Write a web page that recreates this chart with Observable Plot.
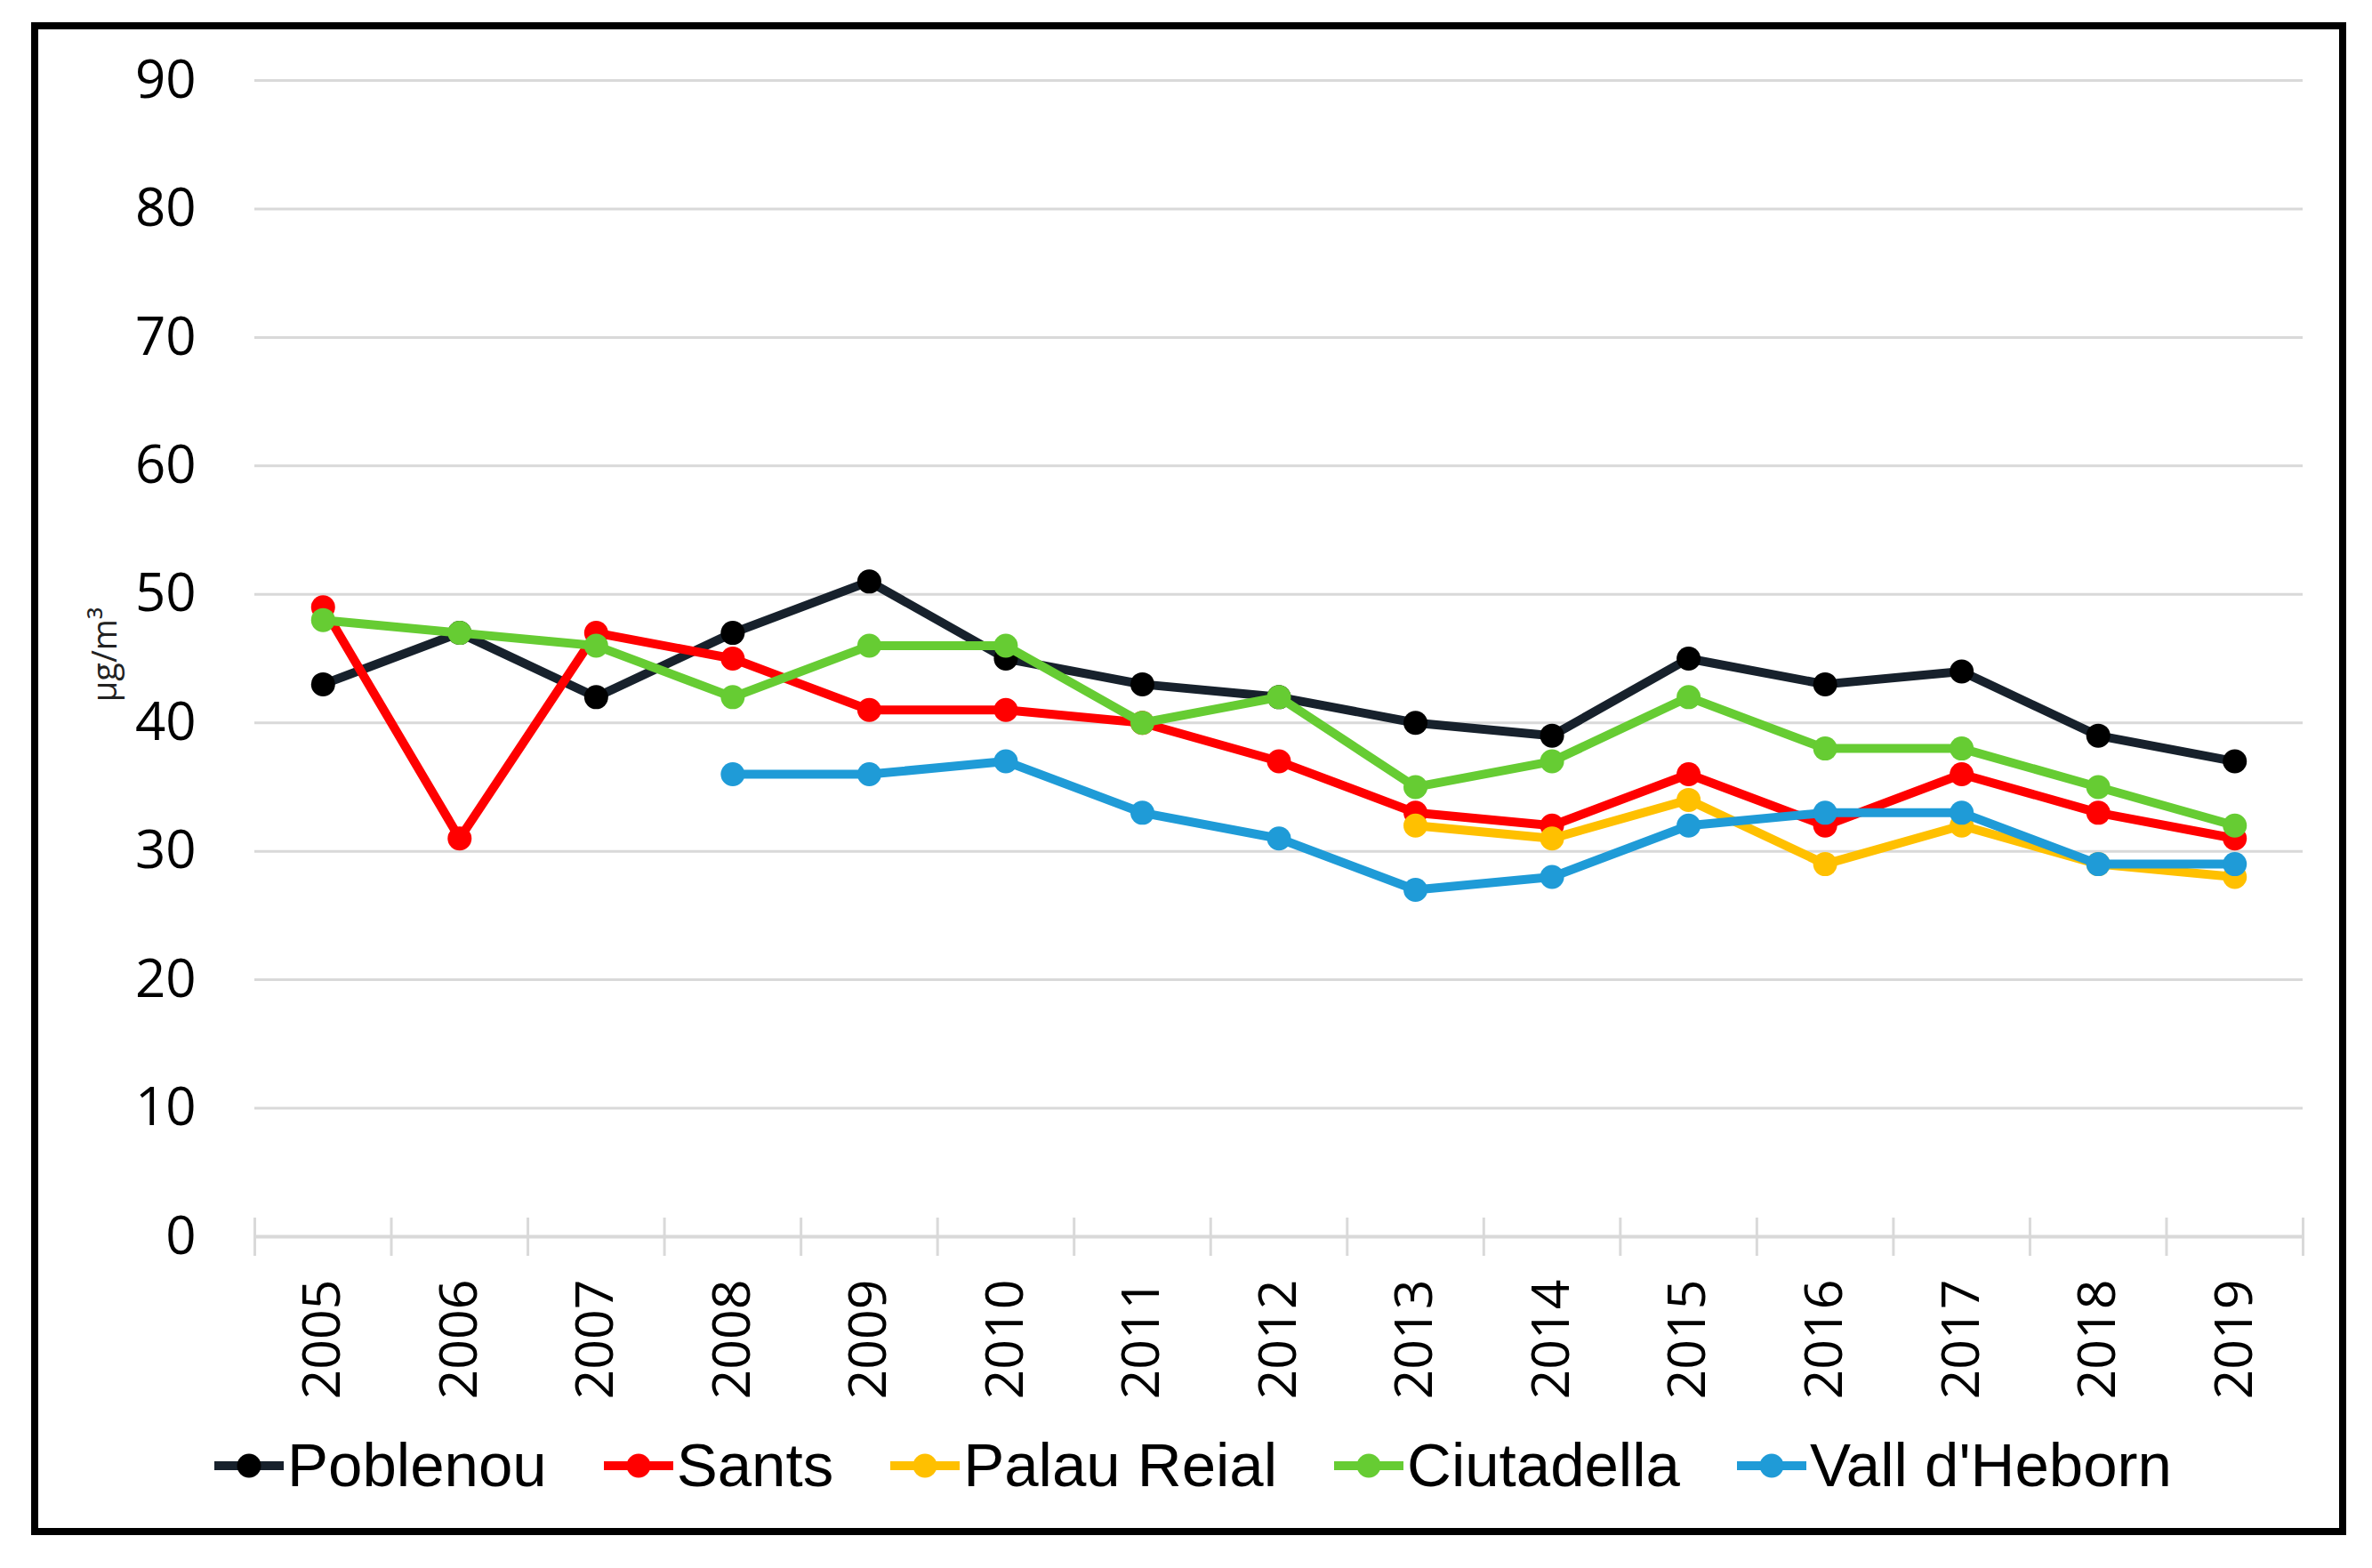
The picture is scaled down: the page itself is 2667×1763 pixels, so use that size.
<!DOCTYPE html>
<html>
<head>
<meta charset="utf-8">
<script src="https://cdn.jsdelivr.net/npm/d3@7"></script>
<script src="https://cdn.jsdelivr.net/npm/@observablehq/plot@0.6"></script>
<style>
  html, body { margin: 0; padding: 0; background: #fff; }
  #page { position: relative; width: 2667px; height: 1763px; overflow: hidden; background: #fff; }
  #frame { position: absolute; left: 35px; top: 25px; width: 2603px; height: 1701px; border: 8px solid #000; box-sizing: border-box; pointer-events: none; }
  #chart { position: absolute; left: 0; top: 0; }
  #ytitle { position: absolute; left: 116px; top: 736px; transform: translate(-50%, -50%) rotate(-90deg); font-family: "Open Sans", sans-serif; font-size: 38px; color: #222; white-space: nowrap; }
  #legend { position: absolute; left: 0; top: 1608px; width: 2683px; display: flex; justify-content: center; align-items: center; font-family: "Liberation Sans", Arial, sans-serif; font-size: 69px; color: #000; }
  .item { display: flex; align-items: center; margin: 0 32px; }
  .item svg { display: block; margin-right: 4px; }
</style>
</head>
<body>
<div id="page">
  <div id="chart"></div>
  <div id="ytitle">µg/m³</div>
  <div id="legend"></div>
  <div id="frame"></div>
</div>
<script>
const years = [2005, 2006, 2007, 2008, 2009, 2010, 2011, 2012, 2013, 2014, 2015, 2016, 2017, 2018, 2019];
const stations = ["Poblenou", "Sants", "Palau Reial", "Ciutadella", "Vall d'Heborn"];
const poblenou   = [43, 47, 42, 47, 51, 45, 43, 42, 40, 39, 45, 43, 44, 39, 37];
const sants      = [49, 31, 47, 45, 41, 41, 40, 37, 33, 32, 36, 32, 36, 33, 31];
const palauReial = [null, null, null, null, null, null, null, null, 32, 31, 34, 29, 32, 29, 28];
const ciutadella = [48, 47, 46, 42, 46, 46, 40, 42, 35, 37, 42, 38, 38, 35, 32];
const vallHebron = [null, null, null, 36, 36, 37, 33, 31, 27, 28, 32, 33, 33, 29, 29];
const yTicks = [0, 10, 20, 30, 40, 50, 60, 70, 80, 90];

const seriesValues = [poblenou, sants, palauReial, ciutadella, vallHebron];
const lineColors = ["#17212c", "#ff0000", "#ffc000", "#66cc33", "#1f9bd7"];
const dotColors  = ["#000000", "#ff0000", "#ffc000", "#66cc33", "#1f9bd7"];

const boundaries = years.map(y => y - 0.5).concat([years[years.length - 1] + 0.5]);

const marks = [
  Plot.gridY(yTicks.filter(t => t > 0), { stroke: "#d9d9d9", strokeWidth: 3, strokeOpacity: 1 }),
  Plot.ruleY([0], { stroke: "#d9d9d9", strokeWidth: 4 }),
  Plot.ruleX(boundaries, { x: d => d, y1: 0, y2: 0, insetTop: -21, insetBottom: -22, stroke: "#d9d9d9", strokeWidth: 3 }),
  Plot.axisY({ ticks: yTicks, tickSize: 0, tickPadding: 66, fontSize: 60, fill: "#000", label: null }),
  Plot.axisX({ ticks: years, tickSize: 0, tickPadding: 48, tickRotate: -90, tickFormat: d => String(d), fontSize: 59, fill: "#000", label: null })
];

stations.forEach((name, i) => {
  const rows = years.map((year, j) => ({ year, value: seriesValues[i][j], station: name }))
                    .filter(d => d.value != null);
  marks.push(Plot.line(rows, { x: "year", y: "value", stroke: lineColors[i], strokeWidth: 10, strokeLinejoin: "round", strokeLinecap: "round" }));
  marks.push(Plot.dot(rows, { x: "year", y: "value", r: 13.5, fill: dotColors[i], stroke: "none" }));
});

const chart = Plot.plot({
  width: 2667,
  height: 1600,
  marginLeft: 286,
  marginRight: 78,
  marginTop: 90,
  marginBottom: 210,
  style: { fontFamily: "'Open Sans', sans-serif", background: "transparent", color: "#000", overflow: "visible" },
  x: { type: "linear", domain: [2004.5, 2019.5], axis: null },
  y: { type: "linear", domain: [0, 90], axis: null },
  marks
});
document.getElementById("chart").appendChild(chart);

const legend = document.getElementById("legend");
stations.forEach((name, i) => {
  const item = document.createElement("div");
  item.className = "item";
  item.innerHTML =
    `<svg width="78" height="30" viewBox="0 0 78 30">` +
    `<line x1="1" y1="15" x2="77" y2="15" stroke="${lineColors[i]}" stroke-width="10" stroke-linecap="round"/>` +
    `<circle cx="39" cy="15" r="13.5" fill="${dotColors[i]}"/></svg>` +
    `<span>${name}</span>`;
  legend.appendChild(item);
});
</script>
</body>
</html>
